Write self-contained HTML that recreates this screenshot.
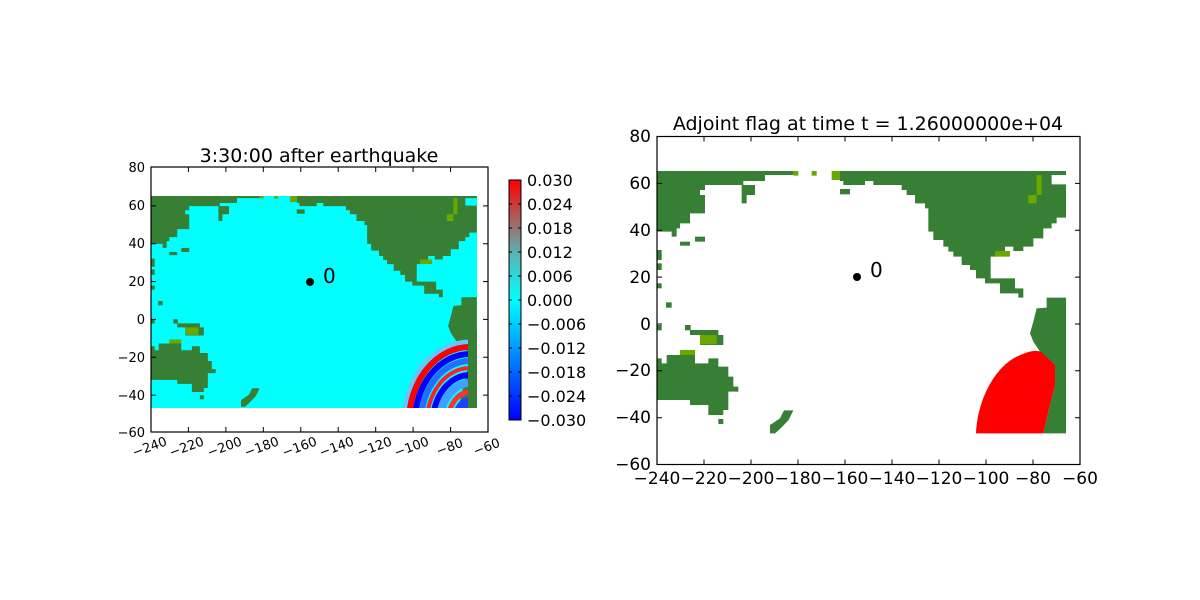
<!DOCTYPE html>
<html><head><meta charset="utf-8"><style>
html,body{margin:0;padding:0;background:#fff;}
svg{display:block;font-family:"DejaVu Sans","Liberation Sans",sans-serif;}
</style></head><body>
<svg width="1200" height="600" viewBox="0 0 1200 600" xmlns="http://www.w3.org/2000/svg">
<defs>
<g id="land" fill="#367f34">
<polygon points="52,135 460,135 460,150 375,150 375,168 310,168 310,180 195,180 195,195 180,195 180,210 195,210 195,265 150,265 150,295 120,295 120,310 110,310 110,335 95,335 95,320 52,320"/>
<polygon points="305,180 345,180 345,210 320,210 320,235 305,235"/>
<polygon points="165,335 195,335 195,350 165,350"/>
<polygon points="120,350 150,350 150,362 120,362"/>
<polygon points="600,135 1278,135 1278,150 1235,150 1235,178 1278,178 1278,278 1250,278 1250,295 1235,295 1235,310 1210,310 1210,340 1180,340 1180,365 1150,365 1150,378 1120,378 1120,365 1095,365 1095,380 1065,380 1065,395 1052,395 1052,460 1125,460 1125,490 1150,490 1150,518 1135,518 1135,505 1080,505 1080,475 1035,475 1035,460 1008,460 1008,435 990,435 990,420 965,420 965,395 940,395 940,380 925,380 925,365 910,365 910,345 880,345 880,320 865,320 865,250 855,250 855,235 825,235 825,210 800,210 800,195 785,195 785,180 700,180 700,168 675,168 675,180 610,180 610,168 600,168"/>
<polygon points="1220,518 1278,518 1278,925 1210,925 1225,860 1245,780 1245,720 1200,680 1180,650 1170,625 1180,590 1190,550 1220,548"/>
<polygon points="52,700 65,700 65,715 80,715 80,690 165,690 165,715 205,715 205,700 235,700 235,725 265,725 265,755 280,755 280,785 295,785 295,800 265,800 265,855 250,855 250,870 205,870 205,840 150,840 150,825 52,825"/>
<polygon points="150,615 235,615 235,630 250,630 250,660 180,660 180,630 150,630"/>
<polygon points="390,900 420,880 432,856 460,856 446,885 420,912 405,925 390,925"/>
<rect x="78" y="532" width="17" height="16"/>
<rect x="135" y="600" width="17" height="16"/>
<rect x="52" y="375" width="13" height="30"/>
<rect x="52" y="415" width="13" height="20"/>
<rect x="52" y="475" width="13" height="15"/>
<rect x="52" y="600" width="13" height="16"/>
<rect x="235" y="882" width="15" height="15"/>
<rect x="575" y="135" width="25" height="30" fill="#6aa800"/>
<rect x="515" y="135" width="15" height="17" fill="#6aa800"/>
<rect x="460" y="135" width="15" height="17" fill="#6aa800"/>
<rect x="600" y="192" width="30" height="16"/>
<rect x="120" y="675" width="45" height="15" fill="#6aa800"/>
<rect x="180" y="630" width="50" height="28" fill="#6aa800"/>
<rect x="1065" y="378" width="45" height="17" fill="#6aa800"/>
<rect x="1165" y="210" width="25" height="25" fill="#6aa800"/>
<rect x="1190" y="150" width="15" height="60" fill="#6aa800"/>
</g>
<clipPath id="cl"><rect x="151" y="196" width="326" height="212"/></clipPath>
<clipPath id="cr"><rect x="657" y="171" width="409" height="263"/></clipPath>
<linearGradient id="cb" x1="0" y1="1" x2="0" y2="0">
<stop offset="0" stop-color="#0000ff"/>
<stop offset="0.25" stop-color="#0080ff"/>
<stop offset="0.5" stop-color="#00ffff"/>
<stop offset="0.7" stop-color="#5fb0b0"/>
<stop offset="0.85" stop-color="#b05858"/>
<stop offset="1" stop-color="#ff0000"/>
</linearGradient>
</defs>

<!-- LEFT PANEL -->
<rect x="151" y="196" width="326" height="212" fill="#00ffff"/>
<g clip-path="url(#cl)">
<g transform="matrix(0.2655,0,0,0.2693,137.46,157.7)"><use href="#land"/></g>
<g fill="none" transform="translate(470,422)">
<ellipse rx="66" ry="80" stroke="#60c8ff" stroke-width="5"/>
<ellipse rx="61" ry="75" stroke="#ff0000" stroke-width="6"/>
<ellipse rx="55" ry="68" stroke="#0000ff" stroke-width="6"/>
<ellipse rx="49" ry="61" stroke="#2070ff" stroke-width="6"/>
<ellipse rx="43" ry="54" stroke="#ff2020" stroke-width="4"/>
<ellipse rx="37" ry="47" stroke="#0000ff" stroke-width="6"/>
<ellipse rx="30" ry="39" stroke="#40a0ff" stroke-width="8"/>
<ellipse rx="22" ry="30" stroke="#ff3030" stroke-width="5"/>
<ellipse rx="13" ry="20" stroke="#2040ff" stroke-width="10"/>
</g>
<rect x="468" y="330" width="12" height="80" fill="#367f34"/>
</g>
<rect x="151" y="167" width="337" height="265" fill="none" stroke="#000" stroke-width="1.2"/>
<circle cx="310" cy="282" r="4" fill="#000"/>
<text x="323" y="283" font-size="20">0</text>
<text x="319" y="162" font-size="19" text-anchor="middle">3:30:00 after earthquake</text>
<g stroke="#000" stroke-width="1">
<path d="M151,167v5M151,432v-5M188.4,167v5M188.4,432v-5M225.9,167v5M225.9,432v-5M263.3,167v5M263.3,432v-5M300.8,167v5M300.8,432v-5M338.2,167v5M338.2,432v-5M375.7,167v5M375.7,432v-5M413.1,167v5M413.1,432v-5M450.6,167v5M450.6,432v-5"/>
<path d="M151,205.9h5M488,205.9h-5M151,243.7h5M488,243.7h-5M151,281.6h5M488,281.6h-5M151,319.4h5M488,319.4h-5M151,357.3h5M488,357.3h-5M151,395.1h5M488,395.1h-5"/>
</g>
<g font-size="13" text-anchor="end">
<text x="145" y="172">80</text><text x="145" y="210">60</text><text x="145" y="248">40</text><text x="145" y="286">20</text><text x="145" y="324">0</text><text x="145" y="362">−20</text><text x="145" y="400">−40</text><text x="145" y="437">−60</text>
</g>
<g font-size="13" text-anchor="middle">
<text transform="translate(151,451) rotate(-20)">−240</text>
<text transform="translate(188,451) rotate(-20)">−220</text>
<text transform="translate(226,451) rotate(-20)">−200</text>
<text transform="translate(263,451) rotate(-20)">−180</text>
<text transform="translate(301,451) rotate(-20)">−160</text>
<text transform="translate(338,451) rotate(-20)">−140</text>
<text transform="translate(376,451) rotate(-20)">−120</text>
<text transform="translate(413,451) rotate(-20)">−100</text>
<text transform="translate(451,451) rotate(-20)">−80</text>
<text transform="translate(488,451) rotate(-20)">−60</text>
</g>

<!-- COLORBAR -->
<rect x="509" y="180" width="12" height="240" fill="url(#cb)" stroke="#000" stroke-width="1"/>
<g stroke="#000"><path d="M509,204h3M521,204h-3M509,228h3M521,228h-3M509,252h3M521,252h-3M509,276h3M521,276h-3M509,300h3M521,300h-3M509,324h3M521,324h-3M509,348h3M521,348h-3M509,372h3M521,372h-3M509,396h3M521,396h-3"/></g>
<g font-size="16">
<text x="527" y="186">0.030</text><text x="527" y="210">0.024</text><text x="527" y="234">0.018</text><text x="527" y="258">0.012</text><text x="527" y="282">0.006</text><text x="527" y="306">0.000</text><text x="527" y="330">−0.006</text><text x="527" y="354">−0.012</text><text x="527" y="378">−0.018</text><text x="527" y="402">−0.024</text><text x="527" y="426">−0.030</text>
</g>

<!-- RIGHT PANEL -->
<g clip-path="url(#cr)">
<g transform="translate(640,125) scale(0.33333)">
<use href="#land"/>
<path d="M1008,925 C1012,830 1060,730 1130,695 C1160,680 1190,672 1205,682 L1245,720 L1245,780 L1225,860 L1210,925 Z" fill="#ff0000"/>
</g>
</g>
<rect x="657" y="136.5" width="423" height="328" fill="none" stroke="#000" stroke-width="1.2"/>
<circle cx="857" cy="277" r="4" fill="#000"/>
<text x="870" y="277" font-size="20">0</text>
<text x="868" y="130" font-size="19" text-anchor="middle">Adjoint flag at time t = 1.26000000e+04</text>
<g stroke="#000" stroke-width="1">
<path d="M704,136.5v5M704,464.5v-5M751,136.5v5M751,464.5v-5M798,136.5v5M798,464.5v-5M845,136.5v5M845,464.5v-5M892,136.5v5M892,464.5v-5M939,136.5v5M939,464.5v-5M986,136.5v5M986,464.5v-5M1033,136.5v5M1033,464.5v-5"/>
<path d="M657,183.4h5M1080,183.4h-5M657,230.2h5M1080,230.2h-5M657,277.1h5M1080,277.1h-5M657,324h5M1080,324h-5M657,370.8h5M1080,370.8h-5M657,417.7h5M1080,417.7h-5"/>
</g>
<g font-size="17" text-anchor="end">
<text x="651" y="142">80</text><text x="651" y="189">60</text><text x="651" y="236">40</text><text x="651" y="283">20</text><text x="651" y="330">0</text><text x="651" y="376">−20</text><text x="651" y="423">−40</text><text x="651" y="470">−60</text>
</g>
<g font-size="17" text-anchor="middle">
<text x="657" y="484">−240</text><text x="704" y="484">−220</text><text x="751" y="484">−200</text><text x="798" y="484">−180</text><text x="845" y="484">−160</text><text x="892" y="484">−140</text><text x="939" y="484">−120</text><text x="986" y="484">−100</text><text x="1033" y="484">−80</text><text x="1080" y="484">−60</text>
</g>
</svg>
</body></html>
